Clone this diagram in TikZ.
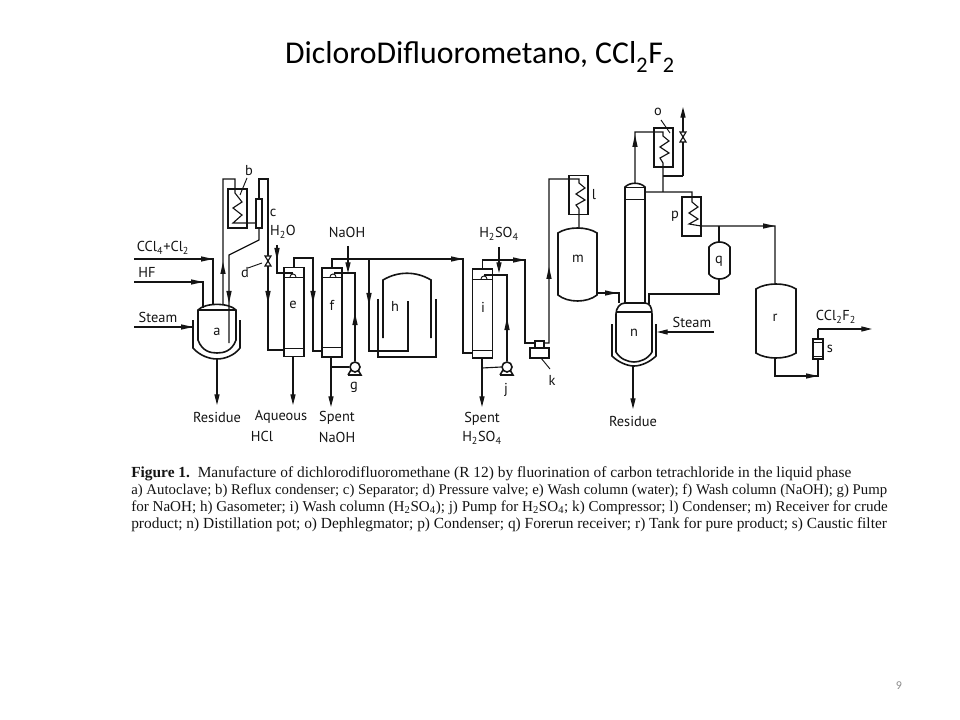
\documentclass[tikz,border=0pt]{standalone}
\usepackage{fontspec}
\setmainfont{Liberation Serif}
\newfontfamily\labelfont{PT Sans}
\newfontfamily\slidefont{Carlito}
\usetikzlibrary{arrows.meta}
\definecolor{inkline}{gray}{.08}
\definecolor{pagegray}{gray}{.55}
\newcommand{\coilturns}{-- ++(6,5) -- ++(-9,6) -- ++(9,6) -- ++(-9,5)}
\newcommand{\lowsub}[1]{\textsubscript{\raisebox{-.3ex}{#1}}}
% drum: left, right, top, upper shoulder, lower shoulder, bottom
\newcommand{\drum}[6]{%
  \pgfmathsetmacro\drumA{#1+.25*(#2-#1)}
  \pgfmathsetmacro\drumB{#2-.25*(#2-#1)}
  \pgfmathsetmacro\drumT{#4+(#3-#4)*4/3}
  \pgfmathsetmacro\drumU{#5+(#6-#5)*4/3}
  \draw[vesselline] (#1,#4) .. controls (\drumA,\drumT) and (\drumB,\drumT) .. (#2,#4)
     -- (#2,#5) .. controls (\drumB,\drumU) and (\drumA,\drumU) .. (#1,#5) -- cycle;
}
\tikzset{
  pipe/.style={draw=inkline,line width=.85pt},
  flow/.style={pipe,-{Stealth[length=8pt,width=3.8pt,inset=0pt]}},
  vesselline/.style={draw=inkline,line width=1.2pt},
  thinline/.style={draw=inkline,line width=.7pt},
  column/.style={vesselline,inner sep=0pt,minimum width=15pt,minimum height=66.5pt},
  cooler/.style={vesselline,inner sep=0pt,minimum width=14.25pt,minimum height=29pt},
  block/.style={vesselline,inner sep=0pt},
  pumpbody/.style={vesselline,circle,inner sep=0pt,minimum size=7.5pt},
  tag/.style={font=\labelfont\fontsize{10.8}{13}\selectfont,text=inkline,inner sep=0pt},
  captionline/.style={anchor=base west,inner sep=0pt,font=\fontsize{#1}{13}\selectfont,text=inkline}
}
\begin{document}
\begin{tikzpicture}[x=.75pt,y=-.75pt]
  \useasboundingbox (0,0) rectangle (960,720);

  \node (title) at (480,57) [font=\slidefont\fontsize{23.8}{28}\selectfont,inner sep=0pt]
     {DicloroDifluorometano, CCl\lowsub{2}F\lowsub{2}};
  \node (pagenum) at (899,686) [font=\slidefont\fontsize{9}{11}\selectfont,text=pagegray,inner sep=0pt] {9};

  % columns, condensers and other boxes
  \node (colE) at (294,312) [draw,column] {};
  \node (colF) at (332,312.5) [draw,column] {};
  \node (colI) at (482.5,313.5) [draw,column] {};
  \node (condB) at (237.5,208.5) [draw,cooler] {};
  \node (condL) at (578.5,195) [draw,cooler] {};
  \node (condO) at (663.5,147.5) [draw,cooler] {};
  \node (condP) at (691.5,216.5) [draw,cooler] {};
  \node (sepC) at (259,213.5) [draw,block,minimum width=4.5pt,minimum height=21.75pt] {};
  \node (compTop) at (539.5,344.5) [draw,block,minimum width=6.75pt,minimum height=5.25pt] {};
  \node (compBase) at (539.5,353) [draw,block,minimum width=14.25pt,minimum height=7.5pt] {};
  \node (filterS) at (818,349) [draw,block,minimum width=7.5pt,minimum height=15pt] {};
  \node (pumpG) at (355,367) [draw,pumpbody] {};
  \node (pumpJ) at (507,367) [draw,pumpbody] {};

  \foreach \cname/\yt/\yb in {colE/277/348,colF/277/347,colI/279/350}
     {
       \draw[thinline] (\cname.west |- 0,\yt) -- (\cname.east |- 0,\yt);
       \draw[thinline] (\cname.west |- 0,\yb) -- (\cname.east |- 0,\yb);
     }
  \foreach \px in {355,507}
     {
       \draw[vesselline] (\px-7,375) -- (\px+6,375) -- (\px+3,370) (\px-4,370) -- (\px-7,375);
     }
  \draw[thinline] (filterS.west |- 0,342) -- (filterS.east |- 0,342)
                  (filterS.west |- 0,356) -- (filterS.east |- 0,356);

  % vessels
  \drum{558}{597}{228}{233}{295}{301}
  \drum{709}{730}{242}{247}{274}{279}
  \drum{756}{796}{284}{289}{353}{358}
  \draw[vesselline] (198,340) -- (198,310) .. controls (205,302.5) and (229,302.5) .. (236,310) -- (236,340)
     .. controls (232,351) and (224,353) .. (217,353) .. controls (210,353) and (202,351) .. (198,340) -- cycle;
  \draw[vesselline] (198,310) -- (236,310);
  \draw[vesselline] (193,320) -- (193,348) .. controls (200,356) and (210,359) .. (217,359)
     .. controls (224,359) and (234,356) .. (240,348) -- (240,320);
  \draw[vesselline] (625,303) -- (625,187) .. controls (630,182) and (640,182) .. (645,187) -- (645,303);
  \draw[thinline] (625,187) -- (645,187) (625,199) -- (645,199);
  \draw[vesselline] (616,352) -- (616,314) .. controls (616,308) and (620,303) .. (625,303) -- (645,303)
     .. controls (650,303) and (652,308) .. (652,314) -- (652,352)
     .. controls (648,359) and (640,362) .. (634,362) .. controls (628,362) and (620,359) .. (616,352) -- cycle;
  \draw[vesselline] (616,312) -- (652,312);
  \draw[vesselline] (612,324) -- (612,356) .. controls (618,362) and (627,366) .. (634,366)
     .. controls (641,366) and (650,362) .. (656,356) -- (656,324);
  % gasometer
  \draw[vesselline] (383,338) -- (383,280) .. controls (398,271) and (416,271) .. (431,280) -- (431,338);
  \draw[vesselline] (378,299) -- (378,357) -- (436,357) -- (436,299);

  % junction points of the lines
  \foreach \nm/\x/\y in {inCCl/134/259,aCCl/213/305,inHF/134/282,aHF/203/308,inSteam/134/327,jackA/193/327,
      aUp/223/305,bIn/235/179,cCoil/256/223,cDown/259/240,cSlant/229/255,dipA/229/343,cUp/259/179,dCorner/268/179,
      dLow/268/350,eIn/284/350,waterIn/277/245,waterEnd/293/273,eOver/294/258,eCross/313/258,eLow/313/351,fIn/322/351,
      aOut/217/359,aEnd/217/405,eOut/293/356,eEnd/293/405,fOut/331/357,fEnd/331/407,fPump/331/367,
      fOver/332/259,fTurn/463/259,iLow/463/353,iIn/473/353,naIn/348/246,naEnd/348/273,fRec/355/273,fSpray/334/273,
      hTee/369/259,hLow/369/351,hCorner/408/351,hEnd/408/301,
      iOver/483/260,iTurn/525/260,kLow/525/343,acidIn/499/247,acidEnd/499/273,iRec/507/275,iSpray/484/275,
      iOut/482/358,iEnd/482/407,iPump/482/368,kRight/544/343,kCorner/549/343,lOver/549/179,lTop/579/179,lMid/579/183,lEnd/579/209,mTop/579/228,
      mOut/597/293,mCorner/619/293,nTop/619/303,nTopR/649/304,qLow/719/294,nCorner/649/294,qOut/719/279,qIn/719/242,qTee/719/226,
      colTop/635/183,oLeft/663/132,oMid/663/136,oEnd/663/163,oTee/663/192,colSide/645/192,pOver/692/192,pMid/692/202,pOut/701/226,rCorner/775/226,rTop/775/284,
      oLeg/663/176,oRight/683/176,oVent/683/107,rOut/775/358,rLow/775/376,sLow/818/376,sOut/818/339,sTop/818/329,prodEnd/872/329,
      steamN/714/332,jackN/657/332,nOut/633/366,nEnd/633/409}
     { \coordinate (\nm) at (\x,\y); }

  % pipes
  \draw[pipe] (inCCl) -| (aCCl);
  \draw[pipe] (inHF) -| (aHF);
  \draw[pipe] (inSteam) -- (jackA);
  \draw[pipe] (aUp) |- (bIn) -- ++(0,14) -- ++(7,9) -- ++(-9,6) -- ++(9,7) -- ++(-9,8) -- (cCoil);
  \draw[pipe] (sepC.south) -- (cDown) -- (cSlant) -- (dipA);
  \draw[pipe] (sepC.north) -- (cUp) -- (dCorner) -- (dLow) -- (eIn);
  \draw[pipe] (waterIn) |- (waterEnd);
  \draw[pipe] (colE.north -| eOver) -- (eOver) -- (eCross) -- (eLow) -- (fIn);
  \draw[flow] (aOut) -- (aEnd);
  \draw[flow] (eOut) -- (eEnd);
  \draw[flow] (fOut) -- (fEnd);
  \draw[pipe] (fPump) -- (pumpG.west);
  \draw[pipe] (colF.north) -- (fOver) -- (fTurn) -- (iLow) -- (iIn);
  \draw[flow] (naIn) -- (naEnd);
  \draw[pipe] (pumpG.north) -- (fRec) -- (fSpray);
  \draw[pipe] (hTee) -- (hLow) -- (hCorner) -- (hEnd);
  \draw[pipe] (colI.north) |- (iTurn) -- (kLow) -- (compTop.west |- kLow);
  \draw[flow] (acidIn) -- (acidEnd);
  \draw[pipe] (pumpJ.north) -- (iRec) -- (iSpray);
  \draw[flow] (iOut) -- (iEnd);
  \draw[pipe] (iPump) -- (pumpJ.west);
  \draw[pipe] (kRight) -- (kCorner) -- (lOver) -- (lTop) -- (lMid) \coilturns -- (lEnd) -- (mTop);
  \draw[pipe] (mOut) -- (mCorner) -- (nTop);
  \draw[pipe] (qIn) -- (qTee);
  \draw[pipe] (qOut) -- (qLow) -- (nCorner) -- (nTopR);
  \draw[pipe] (colTop) |- (oLeft) -- (oMid) \coilturns -- (oEnd) -- (oTee);
  \draw[pipe] (oLeg) -- (oRight);
  \draw[flow] (oRight) -- (oVent);
  \draw[pipe] (colSide) -- (pOver) -- (pMid) \coilturns -- (pOut) -- (rCorner) -- (rTop);
  \draw[pipe] (rOut) -- (rLow) -- (sLow) -- (filterS.south);
  \draw[pipe] (filterS.north) -- (sTop);
  \draw[flow] (sTop) -- (prodEnd);
  \draw[flow] (steamN) -- (jackN);
  \draw[flow] (nOut) -- (nEnd);

  % spray heads in the wash columns
  \foreach \sx/\sy in {293/277,333/277,484/279}
     {
       \draw[thinline] (\sx-3,\sy) arc[start angle=180,end angle=360,radius=3];
     }
  % valves
  \foreach \vx/\vy in {268/261,683/137}
     {
       \draw[pipe,fill=white] (\vx-3,\vy-5) -- (\vx+3,\vy-5) -- (\vx-3,\vy+5) -- (\vx+3,\vy+5) -- cycle;
     }
  % arrow heads along the lines
  \foreach \tx/\ty/\ta in {213/259/0,203/282/0,193/327/0,223/262/90,229/303/270,268/303/270,277/260/270,313/303/270,
      463/259/0,355/313/90,369/305/270,525/260/0,507/318/90,549/267/90,617/293/0,635/135/90,775/226/0,818/376/0}
     {
       \fill[inkline,shift={(\tx,\ty)},rotate=\ta] (0,0) -- (-12,2.7) -- (-12,-2.7) -- cycle;
     }
  % leaders of the letters
  \draw[thinline] (247,178) -- (240,195);
  \draw[thinline] (248,268) -- (262,263);
  \draw[thinline] (541,358) -- (550,369);
  \draw[thinline] (661,120) -- (670,133);

  % texts of the scheme
  \foreach \nm/\txt/\x/\y in {
      tagA/a/217/332, tagB/b/249/171, tagC/c/273/213, tagD/d/245/273, tagE/e/293/305, tagF/f/332/305,
      tagG/g/354/387, tagH/h/395/306, tagI/i/483/307, tagJ/j/506/390, tagK/k/552/380, tagL/l/594/195,
      tagM/m/578/259, tagN/n/634/333, tagO/o/658/112, tagP/p/675/216, tagQ/q/719/261, tagR/r/775/318, tagS/s/830/349,
      tagHF/HF/147/272, tagSteamA/Steam/158/317, tagResA/Residue/217/417, tagAq/Aqueous/281/417,
      tagSpentF/Spent/337/418, tagNaF/NaOH/337/437, tagNaTop/NaOH/347/232, tagSpentI/Spent/482/419,
      tagResN/Residue/633/421, tagSteamN/Steam/692/322,
      tagWater/{H\lowsub{2}O}/283/232, tagAcid/{H\lowsub{2}SO\lowsub{4}}/499/234,
      tagAcidOut/{H\lowsub{2}SO\lowsub{4}}/482/438, tagProd/{CCl\lowsub{2}F\lowsub{2}}/836/317,
      tagFeed/{CCl\lowsub{4}+Cl\lowsub{2}}/163/248, tagHcl/HCl/262/436}
     { \node (\nm) at (\x,\y) [tag] {\txt}; }

  % caption
  \node (capA) at (131,477) [captionline=11.56] {\textbf{Figure 1.}\ \ Manufacture of dichlorodifluoromethane (R 12) by fluorination of carbon tetrachloride in the liquid phase};
  \node (capB) at (131,494) [captionline=11.1] {a) Autoclave; b) Reflux condenser; c) Separator; d) Pressure valve; e) Wash column (water); f) Wash column (NaOH); g) Pump};
  \node (capC) at (131,511) [captionline=11.32] {for NaOH; h) Gasometer; i) Wash column (H\textsubscript{2}SO\textsubscript{4}); j) Pump for H\textsubscript{2}SO\textsubscript{4}; k) Compressor; l) Condenser; m) Receiver for crude};
  \node (capD) at (131,528) [captionline=11.56] {product; n) Distillation pot; o) Dephlegmator; p) Condenser; q) Forerun receiver; r) Tank for pure product; s) Caustic filter};
\end{tikzpicture}
\end{document}
